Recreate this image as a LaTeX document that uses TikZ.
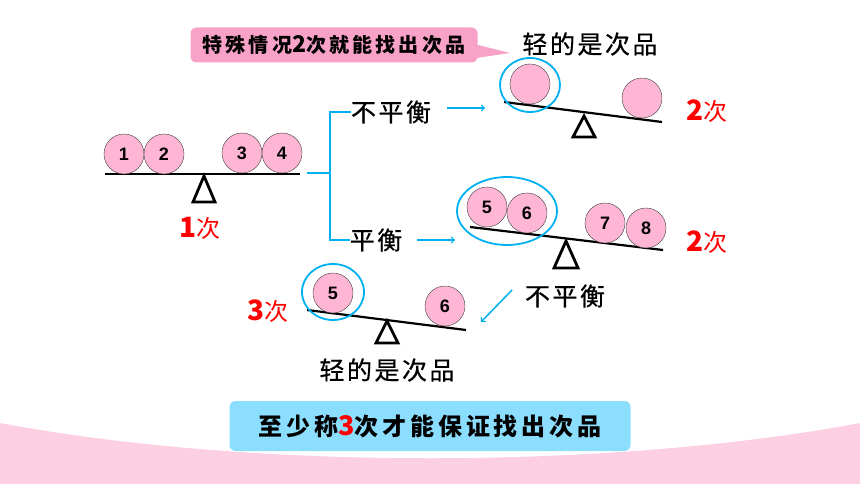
\documentclass[tikz,border=0pt]{standalone}
\usepackage{fontspec}
\setmainfont{Liberation Sans}
\newfontfamily\cjk[LetterSpace=10]{Noto Sans CJK SC}
\newfontfamily\cjkw[LetterSpace=16]{Noto Sans CJK SC}
\newfontfamily\cjkl[LetterSpace=10,FakeBold=0.6]{Noto Sans CJK SC}
\usetikzlibrary{positioning,arrows,calc}

\definecolor{ballpink}{RGB}{255,182,213}
\definecolor{tagpink}{RGB}{249,162,200}
\definecolor{lineblue}{RGB}{0,176,240}
\definecolor{boxblue}{RGB}{140,222,255}
\definecolor{bgpink}{RGB}{253,207,226}
\definecolor{markred}{RGB}{255,0,0}

\begin{document}
\begin{tikzpicture}[x=1pt,y=-1pt,
  ball/.style={draw=black!75,fill=ballpink,circle,minimum size=40pt,inner sep=0pt,font=\fontsize{18}{18}\selectfont\bfseries},
  beam/.style={line width=2.2pt},
  fulcrum/.style={line width=2.8pt,line join=miter},
  ring/.style={draw=lineblue,line width=1.8pt},
  link/.style={draw=lineblue,line width=1.5pt},
  lbl/.style={inner sep=0pt,font=\cjkl\fontsize{25}{28}\selectfont},
  count/.style={inner sep=0pt,text=markred,font=\cjk\fontsize{24}{28}\selectfont}]

\useasboundingbox (0,0) rectangle (860,484);
\fill[bgpink] (0,423) .. controls (250,470) and (610,470) .. (860,423) -- (860,484) -- (0,484) -- cycle;

% callout
\fill[tagpink] (470,43) -- (510,53) -- (470,59) -- cycle;
\node[fill=tagpink,rounded corners=6pt,minimum width=287pt,minimum height=35pt,inner sep=0pt,
  font=\cjkw\fontsize{20}{22}\selectfont\bfseries] (tip) at (334,45) {特殊情况{\fontsize{23}{22}\selectfont\bfseries 2}次就能找出次品};

% first weighing
\draw[beam] (105,174) -- (300,174);
\draw[fulcrum] (204,176) -- (193,202) -- (215,202) -- cycle;
\node[ball] (b1) at (124,154) {1};
\node[ball] (b2) at (164,154) {2};
\node[ball] (b3) at (242,153) {3};
\node[ball] (b4) at (282,153) {4};
\node[count] (c1) at (200,228) {{\fontsize{28}{28}\selectfont\bfseries 1}次};

% branches
\node[lbl] (ub1) at (391,112) {不平衡};
\node[lbl] (bal) at (376,240) {平衡};
\coordinate (s1) at (307,173);
\coordinate (j1) at (330,173);
\draw[link] (s1) -- (j1) |- (ub1.west);
\draw[link] (j1) |- (bal.west);
\coordinate (a1) at (447,108);
\coordinate (a2) at (485,108);
\coordinate (a3) at (417,240);
\coordinate (a4) at (455,240);
\draw[link,->] (a1) -- (a2);
\draw[link,->] (a3) -- (a4);

% second weighing, unbalanced
\node[lbl] (lt1) at (590,44) {轻的是次品};
\draw[beam] (504,102) -- (662,122);
\draw[fulcrum] (584,116) -- (573,137) -- (595,137) -- cycle;
\node[ball] (u1) at (530,84) {};
\node[ball] (u2) at (642,98) {};
\draw[ring] (530,85) ellipse [x radius=30, y radius=27];
\node[count] (c2) at (707,111) {{\fontsize{28}{28}\selectfont\bfseries 2}次};

% second weighing, balanced
\draw[beam] (470,227) -- (663,250);
\draw[fulcrum] (566,241) -- (554,268) -- (578,268) -- cycle;
\node[ball] (b5) at (487,207) {5};
\node[ball] (b6) at (527,213) {6};
\node[ball] (b7) at (605,223) {7};
\node[ball] (b8) at (646,228) {8};
\draw[ring] (507,211) ellipse [x radius=50, y radius=34];
\node[count] (c3) at (707,242) {{\fontsize{28}{28}\selectfont\bfseries 2}次};

% third weighing
\node[lbl] (ub2) at (565,296) {不平衡};
\coordinate (a5) at (512,290);
\coordinate (a6) at (481,322);
\draw[link,->] (a5) -- (a6);
\draw[beam] (307,310) -- (466,330);
\draw[fulcrum] (387,321) -- (376,343) -- (398,343) -- cycle;
\node[ball] (d5) at (333,293) {5};
\node[ball] (d6) at (445,306) {6};
\draw[ring] (333,292) ellipse [x radius=31, y radius=28];
\node[count] (c4) at (268,311) {{\fontsize{28}{28}\selectfont\bfseries 3}次};
\node[lbl] (lt2) at (387,370) {轻的是次品};

% summary
\node[fill=boxblue,rounded corners=6pt,minimum width=401pt,minimum height=50pt,inner sep=0pt,
  font=\cjkw\fontsize{24}{26}\selectfont\bfseries] (sum) at (430,426) {至少称{\color{markred}\fontsize{27}{26}\selectfont 3}次才能保证找出次品};

\end{tikzpicture}
\end{document}
